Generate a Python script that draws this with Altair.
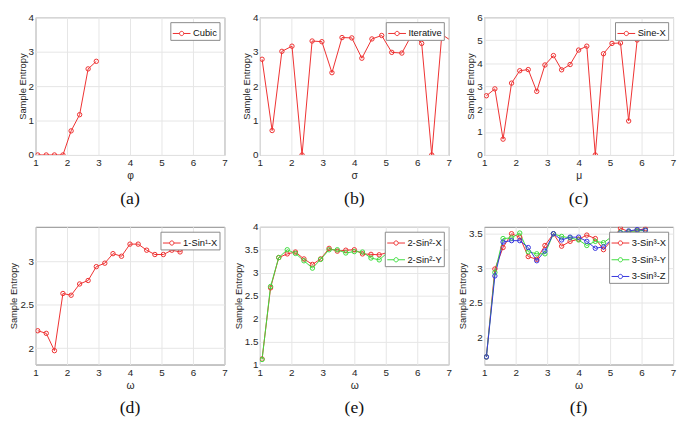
import altair as alt
import pandas as pd

# ---------------- data ----------------
x_short = [1.07, 1.34, 1.60, 1.87, 2.13, 2.40, 2.67, 2.93, 3.20, 3.46,
           3.73, 4.00, 4.26, 4.53, 4.79, 5.06, 5.33, 5.59, 5.86, 6.12]
x_iter = [1.07, 1.39, 1.70, 2.02, 2.34, 2.66, 2.97, 3.29, 3.61, 3.92,
          4.24, 4.56, 4.87, 5.19, 5.51, 5.83, 6.14, 6.46, 6.78, 7.09]

cubic = [0.0, 0.0, 0.0, 0.0, 0.70, 1.17, 2.50, 2.72]
iterative = [2.78, 0.71, 3.01, 3.16, 0.0, 3.31, 3.29, 2.39, 3.41, 3.40,
             2.81, 3.37, 3.47, 2.98, 2.96, 3.50, 3.24, 0.0, 3.50, 3.31]
sine_x = [2.58, 2.88, 0.69, 3.13, 3.67, 3.72, 2.77, 3.92, 4.33, 3.71,
          3.94, 4.57, 4.74, 0.0, 4.41, 4.86, 4.88, 1.48, 5.01, 5.24]
sin1_x = [2.20, 2.17, 1.97, 2.63, 2.61, 2.74, 2.78, 2.94, 2.98, 3.09,
          3.06, 3.20, 3.20, 3.13, 3.08, 3.08, 3.13, 3.11, 3.18]
sin2_x = [1.12, 2.67, 3.33, 3.41, 3.45, 3.30, 3.18, 3.30, 3.53, 3.47,
          3.49, 3.50, 3.41, 3.40, 3.39, 3.44]
sin2_y = [1.11, 2.70, 3.33, 3.50, 3.42, 3.26, 3.10, 3.29, 3.50, 3.50,
          3.43, 3.46, 3.45, 3.32, 3.28, 3.44]
sin3_x = [1.72, 2.99, 3.30, 3.50, 3.45, 3.17, 3.13, 3.33, 3.50, 3.32,
          3.39, 3.42, 3.48, 3.43, 3.27, 3.41, 3.58, 3.53, 3.55, 3.57]
sin3_y = [1.72, 2.94, 3.43, 3.44, 3.51, 3.24, 3.21, 3.21, 3.50, 3.46,
          3.44, 3.41, 3.33, 3.39, 3.37, 3.46, 3.52, 3.53, 3.54, 3.55]
sin3_z = [1.72, 2.89, 3.38, 3.40, 3.40, 3.30, 3.11, 3.25, 3.50, 3.41,
          3.45, 3.45, 3.39, 3.29, 3.31, 3.42, 3.51, 3.54, 3.56, 3.55]

RED, GREEN, BLUE = "#ee2f2f", "#3ddc3d", "#3535dd"
FONT = "Liberation Sans"
SYMBOL = ("M-1,0L-0.24,0M0.24,0L1,0"
          "M-0.24,0A0.24,0.24,0,1,0,0.24,0A0.24,0.24,0,1,0,-0.24,0")


def frame(series):
    rows = []
    for name, xs, ys in series:
        for xv, yv in zip(xs, ys):
            rows.append({"series": name, "x": xv, "y": yv})
    return pd.DataFrame(rows)


def panel(series, colors, xtitle, ydom, yticks, caption):
    df = frame(series)
    names = [s[0] for s in series]
    return alt.Chart(df).mark_line(
        strokeWidth=1, clip=True,
        point=alt.OverlayMarkDef(shape="circle", filled=False, size=20,
                                 strokeWidth=1, clip=True),
    ).encode(
        x=alt.X("x:Q", scale=alt.Scale(domain=[1, 7], nice=False, zero=False),
                axis=alt.Axis(values=[1, 2, 3, 4, 5, 6, 7], title=xtitle,
                              format="~g", titleFontSize=10.5, titlePadding=3)),
        y=alt.Y("y:Q", scale=alt.Scale(domain=ydom, nice=False, zero=False),
                axis=alt.Axis(values=yticks, title="Sample Entropy",
                              format="~g", titleFontSize=9.5, titlePadding=1,
                              labelPadding=2)),
        color=alt.Color("series:N", sort=names,
                        scale=alt.Scale(domain=names, range=colors),
                        legend=alt.Legend(
                            title=None, orient="top-right", offset=5,
                            symbolType=SYMBOL, symbolSize=324,
                            symbolStrokeWidth=1, symbolFillColor="white",
                            labelFont=FONT, labelFontSize=9.5,
                            labelColor="#111", labelOffset=2,
                            strokeColor="#8a8a8a", fillColor="white",
                            padding=2, rowPadding=3, symbolOffset=0)),
    ).properties(
        width=192, height=140,
        title=alt.TitleParams(caption, orient="bottom", font="Liberation Serif",
                              fontSize=18, fontWeight="normal", color="#111",
                              offset=9, anchor="middle"),
    )


pa = panel([("Cubic", x_short[:8], cubic)], [RED], "φ", [0, 4], [0, 1, 2, 3, 4], "(a)")
pb = panel([("Iterative", x_iter, iterative)], [RED], "σ", [0, 4], [0, 1, 2, 3, 4], "(b)")
pc = panel([("Sine-X", x_short, sine_x)], [RED], "μ", [0, 6], [0, 1, 2, 3, 4, 5, 6], "(c)")
pd_ = panel([("1-Sin¹-X", x_short[:19], sin1_x)], [RED], "ω", [1.81, 3.40],
            [2, 2.5, 3], "(d)")
pe = panel([("2-Sin²-X", x_short[:16], sin2_x), ("2-Sin²-Y", x_short[:16], sin2_y)],
           [RED, GREEN], "ω", [1, 4], [1, 1.5, 2, 2.5, 3, 3.5, 4], "(e)")
pf = panel([("3-Sin³-X", x_short, sin3_x), ("3-Sin³-Y", x_short, sin3_y),
            ("3-Sin³-Z", x_short, sin3_z)],
           [RED, GREEN, BLUE], "ω", [1.61, 3.60], [2, 2.5, 3, 3.5], "(f)")

chart = alt.concat(
    pa, pb, pc, pd_, pe, pf, columns=3,
    spacing={"row": 73, "column": 36}, bounds="flush",
).resolve_scale(color="independent").properties(
    padding={"left": 0, "top": 0, "right": 0, "bottom": 0},
).configure(
    font=FONT,
).configure_view(
    stroke="#8a8a8a", strokeWidth=1,
).configure_axis(
    labelFont=FONT, labelFontSize=10, labelColor="#262626",
    titleFont=FONT, titleColor="#262626", titleFontWeight="normal",
    grid=True, gridColor="#e6e6e6", gridWidth=1,
    domain=False, ticks=False, labelPadding=3,
    labelFlush=False, labelOverlap=False,
).configure_title(
    font="Liberation Serif",
)

chart.save("out.html", embed_options={"renderer": "svg", "actions": False})
